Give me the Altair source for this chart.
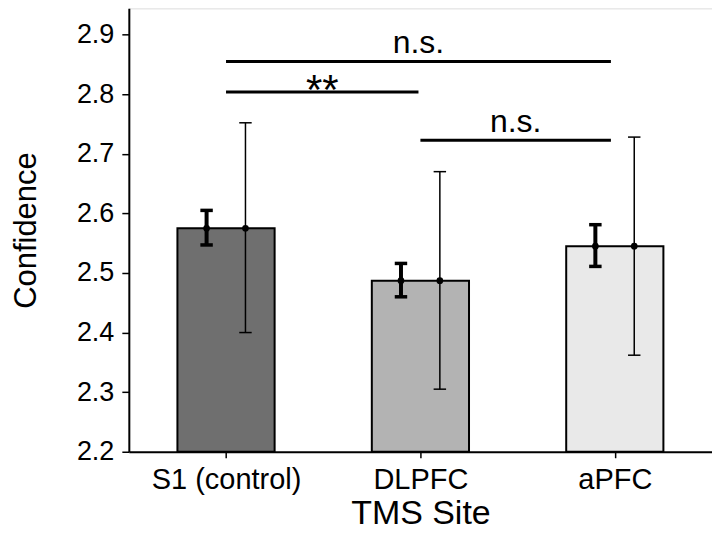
import altair as alt
import pandas as pd

sites = ["S1 (control)", "DLPFC", "aPFC"]
pos = [1, 2, 3]
means = [2.575, 2.487, 2.545]
sem_lo = [2.547, 2.460, 2.511]
sem_hi = [2.605, 2.516, 2.581]
sd_lo = [2.400, 2.305, 2.362]
sd_hi = [2.752, 2.670, 2.728]
fills = ["#6f6f6f", "#b3b3b3", "#e9e9e9"]

sig_x1 = [1.0, 1.0, 2.0]
sig_x2 = [2.98, 1.99, 2.98]
sig_y = [2.855, 2.8035, 2.7226]
sig_label = ["n.s.", "**", "n.s."]

df = pd.DataFrame({
    "site": sites, "pos": pos, "mean": means,
    "sem_lo": sem_lo, "sem_hi": sem_hi, "sd_lo": sd_lo, "sd_hi": sd_hi,
    "fill": fills,
})
df["bx1"] = df["pos"] - 0.25
df["bx2"] = df["pos"] + 0.25
df["px_sem"] = df["pos"] - 0.1
df["px_sd"] = df["pos"] + 0.1
off = 0.032
df["cs1"] = df["px_sem"] - off
df["cs2"] = df["px_sem"] + off
df["cd1"] = df["px_sd"] - off
df["cd2"] = df["px_sd"] + off

sig = pd.DataFrame({"x1": sig_x1, "x2": sig_x2, "y": sig_y, "label": sig_label})
sig["xm"] = (sig["x1"] + sig["x2"]) / 2

FONT = "Liberation Sans"
YMIN, YMAX = 2.2, 2.944

label_expr = "datum.value == 1 ? 'S1 (control)' : datum.value == 2 ? 'DLPFC' : datum.value == 3 ? 'aPFC' : ''"

xscale = alt.Scale(domain=[0.5, 3.5], nice=False, zero=False)
yscale = alt.Scale(domain=[YMIN, YMAX], nice=False, zero=False)

xaxis = alt.Axis(values=[1, 2, 3], labelExpr=label_expr, title="TMS Site", grid=False,
                 domainColor="black", domainWidth=2, tickColor="black", tickWidth=1.5, tickSize=6,
                 labelFont=FONT, labelFontSize=29, labelColor="black", labelPadding=8,
                 titleFont=FONT, titleFontSize=34, titleFontWeight="normal", titleColor="black",
                 titlePadding=2, labelFlush=False)
yaxis = alt.Axis(values=[2.2, 2.3, 2.4, 2.5, 2.6, 2.7, 2.8, 2.9], format=".1f", title="Confidence",
                 grid=False, domainColor="black", domainWidth=2, tickColor="black", tickWidth=1.5,
                 tickSize=7, labelFont=FONT, labelFontSize=27, labelColor="black", labelPadding=8,
                 titleFont=FONT, titleFontSize=31, titleFontWeight="normal", titleColor="black",
                 titlePadding=34)

base = alt.Chart(df)

bars = base.mark_bar(stroke="black", strokeWidth=2).encode(
    x=alt.X("bx1:Q", scale=xscale, axis=xaxis),
    x2="bx2:Q",
    y=alt.Y("mean:Q", scale=yscale, axis=yaxis),
    y2=alt.datum(YMIN),
    fill=alt.Fill("fill:N", scale=None),
)

sem_line = base.mark_rule(color="black", strokeWidth=4).encode(
    x=alt.X("px_sem:Q", scale=xscale), y=alt.Y("sem_lo:Q", scale=yscale), y2="sem_hi:Q")
sem_cap_lo = base.mark_rule(color="black", strokeWidth=3.5).encode(
    x=alt.X("cs1:Q", scale=xscale), x2="cs2:Q", y=alt.Y("sem_lo:Q", scale=yscale))
sem_cap_hi = base.mark_rule(color="black", strokeWidth=3.5).encode(
    x=alt.X("cs1:Q", scale=xscale), x2="cs2:Q", y=alt.Y("sem_hi:Q", scale=yscale))
sd_line = base.mark_rule(color="black", strokeWidth=1.5).encode(
    x=alt.X("px_sd:Q", scale=xscale), y=alt.Y("sd_lo:Q", scale=yscale), y2="sd_hi:Q")
sd_cap_lo = base.mark_rule(color="black", strokeWidth=1.5).encode(
    x=alt.X("cd1:Q", scale=xscale), x2="cd2:Q", y=alt.Y("sd_lo:Q", scale=yscale))
sd_cap_hi = base.mark_rule(color="black", strokeWidth=1.5).encode(
    x=alt.X("cd1:Q", scale=xscale), x2="cd2:Q", y=alt.Y("sd_hi:Q", scale=yscale))
dot_sem = base.mark_point(filled=True, color="black", size=45, opacity=1).encode(
    x=alt.X("px_sem:Q", scale=xscale), y=alt.Y("mean:Q", scale=yscale))
dot_sd = base.mark_point(filled=True, color="black", size=45, opacity=1).encode(
    x=alt.X("px_sd:Q", scale=xscale), y=alt.Y("mean:Q", scale=yscale))

sbase = alt.Chart(sig)
sig_lines = sbase.mark_rule(color="black", strokeWidth=3).encode(
    x=alt.X("x1:Q", scale=xscale), x2="x2:Q", y=alt.Y("y:Q", scale=yscale))
ns_text = sbase.transform_filter("datum.label == 'n.s.'").mark_text(
    font=FONT, fontSize=32, color="black", baseline="alphabetic", dy=-8).encode(
    x=alt.X("xm:Q", scale=xscale), y=alt.Y("y:Q", scale=yscale), text="label:N")
star_text = sbase.transform_filter("datum.label == '**'").mark_text(
    font=FONT, fontSize=42, color="black", baseline="alphabetic", dy=12).encode(
    x=alt.X("xm:Q", scale=xscale), y=alt.Y("y:Q", scale=yscale), text="label:N")

chart = alt.layer(
    bars, sem_line, sem_cap_lo, sem_cap_hi, sd_line, sd_cap_lo, sd_cap_hi,
    dot_sem, dot_sd, sig_lines, ns_text, star_text,
).properties(
    width=584, height=444,
    autosize=alt.AutoSizeParams(type="none"),
    padding={"left": 121, "top": 0, "right": 0, "bottom": 79},
).configure_view(stroke=None).configure(background="white")

chart.save("out.html", embed_options={"renderer": "svg", "actions": False})
